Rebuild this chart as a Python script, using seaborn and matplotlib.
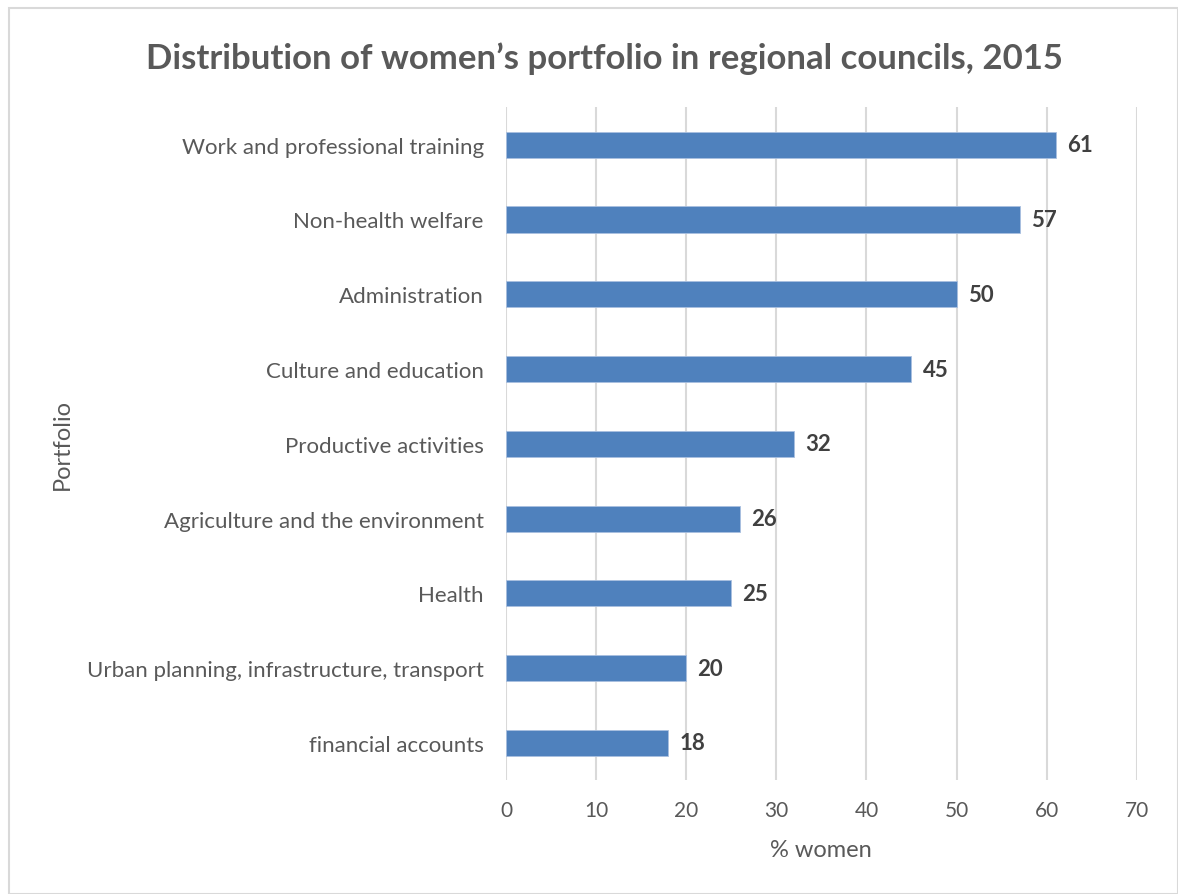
import matplotlib
matplotlib.use("Agg")
import matplotlib.pyplot as plt
import seaborn as sns
import pandas as pd
from matplotlib.patches import Rectangle

portfolios = [
    "Work and professional training",
    "Non-health welfare",
    "Administration",
    "Culture and education",
    "Productive activities",
    "Agriculture and the environment",
    "Health",
    "Urban planning, infrastructure, transport",
    "financial accounts",
]
pct_women = [61, 57, 50, 45, 32, 26, 25, 20, 18]
x_ticks = [0, 10, 20, 30, 40, 50, 60, 70]

df = pd.DataFrame({"Portfolio": portfolios, "% women": pct_women})

sns.set_theme(style="white")
plt.rcParams["font.family"] = ["Lato", "DejaVu Sans"]

text_color = "#595959"
bar_color = "#4f81bd"
grid_color = "#d9d9d9"

fig = plt.figure(figsize=(11.78, 8.95), dpi=100)
ax = fig.add_axes([0.4295, 0.127, 0.5355, 0.752])

sns.barplot(data=df, x="% women", y="Portfolio", order=portfolios,
            color=bar_color, width=0.35, saturation=1, ax=ax, zorder=3,
            edgecolor="#a9c0e0", linewidth=0.6)

ax.set_xlim(0, 70)
ax.set_ylim(len(portfolios) - 0.5, -0.5)
ax.set_xticks(x_ticks)
ax.set_xticklabels([str(t) for t in x_ticks])
ax.xaxis.grid(True, color=grid_color, linewidth=1.5, zorder=0)
ax.yaxis.grid(False)
for s in ax.spines.values():
    s.set_visible(False)

ax.tick_params(axis="x", colors=text_color, labelsize=15, length=0, pad=14)
ax.tick_params(axis="y", colors=text_color, labelsize=16, length=0, pad=16)
for lbl in ax.get_xticklabels() + ax.get_yticklabels():
    lbl.set_color(text_color)

ax.set_xlabel("% women", fontsize=17, color=text_color, labelpad=14)
ax.set_ylabel("Portfolio", fontsize=17, color=text_color, labelpad=0)
ax.yaxis.set_label_coords(-0.686, 0.5)

for i, v in enumerate(pct_women):
    ax.annotate(str(v), xy=(v, i), xytext=(8, 0), textcoords="offset points",
                ha="left", va="center", fontsize=16, fontweight="bold",
                color="#404040")

fig.text(0.5127, 0.935, "Distribution of women\u2019s portfolio in regional councils, 2015",
         ha="center", va="center", fontsize=25, fontweight="bold", color=text_color)

fig.patches.append(Rectangle((9 / 1178, 0), 1 - 9 / 1178, 1 - 9 / 895,
                             transform=fig.transFigure, fill=False,
                             edgecolor=grid_color, linewidth=1.5))

fig.savefig("out.png", dpi=100)
